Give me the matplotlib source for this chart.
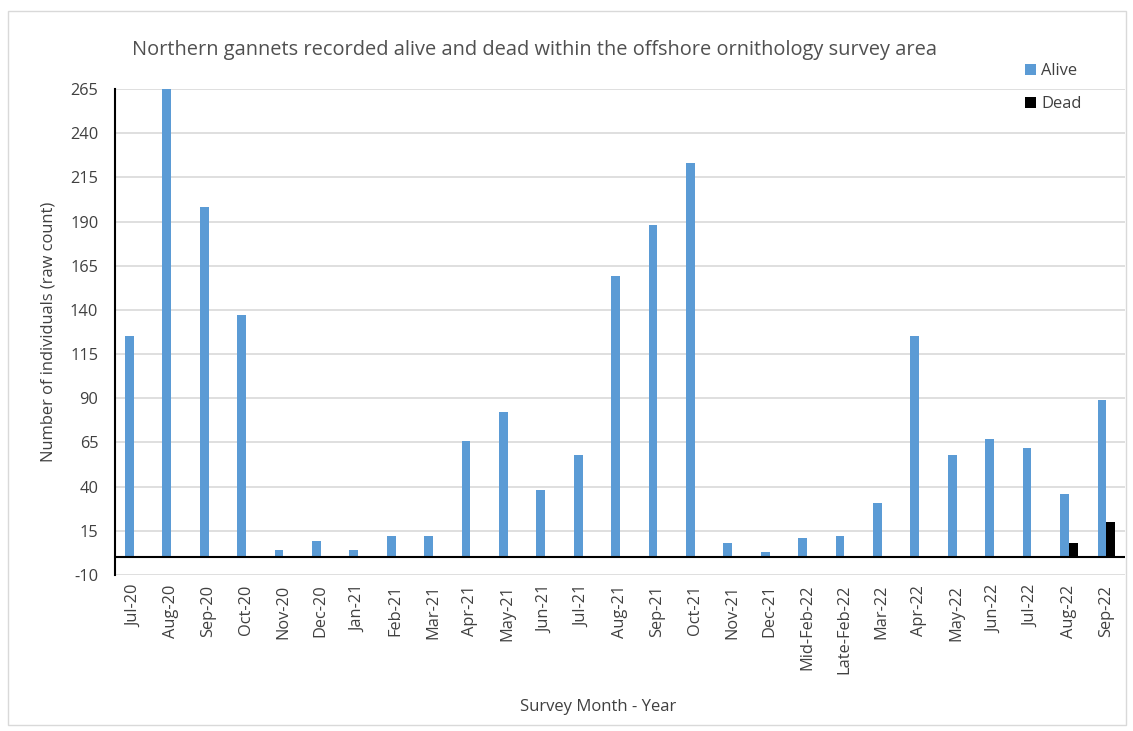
import matplotlib
matplotlib.use("Agg")
import matplotlib.pyplot as plt
import numpy as np

labels = ["Jul-20", "Aug-20", "Sep-20", "Oct-20", "Nov-20", "Dec-20", "Jan-21", "Feb-21",
          "Mar-21", "Apr-21", "May-21", "Jun-21", "Jul-21", "Aug-21", "Sep-21", "Oct-21",
          "Nov-21", "Dec-21", "Mid-Feb-22", "Late-Feb-22", "Mar-22", "Apr-22", "May-22",
          "Jun-22", "Jul-22", "Aug-22", "Sep-22"]
alive = [125, 265, 198, 137, 4, 9, 4, 12, 12, 66, 82, 38, 58, 159, 188, 223,
         8, 3, 11, 12, 31, 125, 58, 67, 62, 36, 89]
dead = [0, 0, 0, 0, 0, 0, 0, 0, 0, 0, 0, 0, 0, 0, 0, 1,
        0, 0, 0, 0, 0, 0, 1, 0, 1, 8, 20]
yticks = list(range(-10, 266, 25))

plt.rcParams['font.family'] = ['Open Sans', 'DejaVu Sans']
plt.rcParams['axes.unicode_minus'] = False
fig = plt.figure(figsize=(11.33, 7.31), dpi=100)
ax = fig.add_axes([115/1133, 1-575/731, (1125-115)/1133, (575-89)/731])

x = np.arange(len(labels))
w = 0.235
ax.bar(x - w/2, alive, width=w, color='#5b9bd5', label='Alive', zorder=3)
ax.bar(x + w/2, dead, width=w, color='#000000', label='Dead', zorder=5)

ax.set_xlim(-0.5, len(labels) - 0.5)
ax.set_ylim(-10, 265)
ax.set_yticks(yticks)
ax.yaxis.grid(True, color='#d9d9d9', linewidth=1.2, zorder=0)
ax.set_axisbelow(True)
ax.axhline(0, color='black', linewidth=1.5, zorder=4)
for s in ['top', 'right', 'bottom']:
    ax.spines[s].set_visible(False)
ax.spines['left'].set_color('black')
ax.spines['left'].set_linewidth(1.5)
ax.tick_params(axis='both', length=0, colors='#404040', labelsize=11.8)
ax.tick_params(axis='y', pad=12)
ax.set_xticks(x)
ax.set_xticklabels(labels, rotation=90, va='top')
ax.tick_params(axis='x', pad=7)

ax.set_ylabel('Number of individuals (raw count)', fontsize=11.9, color='#404040', labelpad=10)
fig.text(598/1133, 1-707/731, 'Survey Month - Year', ha='center', va='center', fontsize=12, color='#404040')
fig.text(535/1133, 1-50/731, 'Northern gannets recorded alive and dead within the offshore ornithology survey area',
         ha='center', va='center', fontsize=14.4, color='#505050')

leg = fig.legend(loc='upper left', bbox_to_anchor=(1010/1133, 1-48/731), frameon=False,
                 fontsize=11.9, handlelength=0.65, handleheight=0.65, handletextpad=0.35,
                 labelspacing=1.05, labelcolor='#404040')

border = plt.Rectangle((8/1133, 1-725/731), (1126-8)/1133, (725-11)/731, transform=fig.transFigure,
                       fill=False, edgecolor='#d9d9d9', linewidth=1)
fig.patches.append(border)

fig.savefig('out.png', dpi=100)
